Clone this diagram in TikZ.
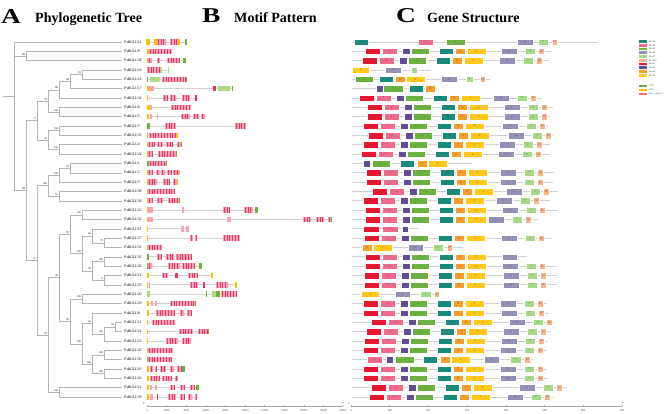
\documentclass[tikz,border=0pt]{standalone}
\usepackage{fontspec}
\setmainfont{Liberation Serif}
\usepackage{graphicx}
\usetikzlibrary{positioning}

\definecolor{treegray}{HTML}{B4B4B4}
\definecolor{linegray}{HTML}{D2D2D2}
\definecolor{exR}{HTML}{E8365E}
\definecolor{exP}{HTML}{F6A3B7}
\definecolor{exY}{HTML}{FFC000}
\definecolor{exG}{HTML}{6AB43E}
\definecolor{exL}{HTML}{AEDA88}
\definecolor{m1}{HTML}{6BB240}
\definecolor{m2}{HTML}{FFC81A}
\definecolor{m3}{HTML}{E8172F}
\definecolor{m4}{HTML}{1A8A7B}
\definecolor{m5}{HTML}{EE6B8C}
\definecolor{m6}{HTML}{9391B5}
\definecolor{m7}{HTML}{A5D887}
\definecolor{m8}{HTML}{634D97}
\definecolor{m9}{HTML}{F59E2A}
\definecolor{m10}{HTML}{F9B68C}

\begin{document}
\begin{tikzpicture}[
  x=0.03cm,y=-0.03cm,
  br/.style={draw=treegray, line width=0.45pt},
  gl/.style={draw=linegray, line width=0.6pt},
  ax/.style={draw=linegray!80!black, line width=0.4pt},
  big/.style={font=\fontsize{18}{20}\selectfont\bfseries, anchor=base west, inner sep=0pt},
  ttl/.style={font=\fontsize{12}{14}\selectfont\bfseries, anchor=base west, inner sep=0pt},
  gname/.style={font=\fontsize{3.2}{3.5}\selectfont\itshape, anchor=west, inner sep=0pt},
  sup/.style={font=\fontsize{2.3}{2.5}\selectfont, inner sep=0.2pt},
  mb/.style={inner sep=0pt, minimum height=6.4*0.03cm, draw=white, line width=0.15pt, font=\fontsize{2.4}{2.6}\selectfont, text=black!75},
  axl/.style={font=\fontsize{2.5}{2.8}\selectfont, inner sep=0pt, text=black!70},
  lgbox/.style={inner sep=0pt, minimum width=8*0.03cm, minimum height=2.8*0.03cm},
  lgtxt/.style={font=\fontsize{2}{2.2}\selectfont, inner sep=0pt, text=black!70},
  ey/.style={fill=exY},
  eg/.style={fill=exG},
  el/.style={fill=exL},
  ep/.style={fill=exP},
  er/.style={fill=exR},
  es/.style={fill=exP, path picture={\foreach \k in {0,...,14}{\fill[exR] ([xshift=\k*2.4pt+0.7pt]path picture bounding box.south west) rectangle ([xshift=\k*2.4pt+1.5pt]path picture bounding box.north west);}}}
]
\useasboundingbox (0,0) rectangle (669,413);

% titles
\node[big] (tA) at (1,23) {\scalebox{1.3}[1]{A}};
\node[ttl] (hA) at (35,22) {Phylogenetic Tree};
\node[big] (tB) at (202,22.5) {\scalebox{1.3}[1]{B}};
\node[ttl] (hB) at (234,22) {Motif Pattern};
\node[big] (tC) at (396,22) {\scalebox{1.3}[1]{C}};
\node[ttl] (hC) at (427,22.3) {Gene Structure};

% leaves
\foreach \r/\g in {1/13,2/9,3/28,4/19,5/18,6/17,7/34,8/6,9/5,10/7,11/33,12/4,13/24,14/1,15/2,16/3,17/38,18/36,19/22,20/32,21/15,22/27,23/31,24/35,25/26,26/14,27/37,28/20,29/29,30/8,31/11,32/21,33/23,34/25,35/30,36/10,37/16,38/12,39/39}{
  \pgfmathsetmacro\y{42+(\r-1)*9.34}
  \coordinate (e\r) at (122,\y);
  \node[gname] (t\r) at (124,\y) {PsBGLU\g};
}

% internal nodes of the tree
\coordinate (nRoot) at (14,96.15);
\coordinate (r0) at (3,96.15);
\coordinate (n88) at (26,56.01);
\coordinate (nA) at (82,74.69);
\coordinate (nB) at (70,81.70);
\coordinate (nC) at (59,89.87);
\coordinate (nD) at (59,112.05);
\coordinate (nE) at (48,100.96);
\coordinate (nG) at (59,130.73);
\coordinate (nH) at (59,149.41);
\coordinate (nI) at (48,140.07);
\coordinate (nF) at (37,120.52);
\coordinate (nN) at (70,168.09);
\coordinate (nO) at (59,175.10);
\coordinate (nP) at (59,196.11);
\coordinate (nQ) at (48,185.60);
\coordinate (nS) at (82,214.79);
\coordinate (nU) at (104,242.81);
\coordinate (nV) at (92,235.81);
\coordinate (nX) at (104,261.49);
\coordinate (nY) at (104,280.17);
\coordinate (nZ) at (92,270.83);
\coordinate (nW) at (82,253.32);
\coordinate (nT) at (70,234.05);
\coordinate (nAB) at (82,298.85);
\coordinate (nAE) at (115,326.87);
\coordinate (nAF) at (104,333.88);
\coordinate (nAD) at (92,323.37);
\coordinate (nAI) at (104,354.89);
\coordinate (nAJ) at (104,373.57);
\coordinate (nAG) at (92,364.23);
\coordinate (nAH) at (82,343.80);
\coordinate (nAC) at (70,321.33);
\coordinate (nAA) at (59,277.69);
\coordinate (nAK) at (59,392.25);
\coordinate (nR) at (48,334.97);
\coordinate (nL) at (37,260.29);
\coordinate (nJ) at (26,190.44);

\draw[br] (r0) -- (nRoot);
\foreach \p/\c in {nRoot/e1,nRoot/n88,nRoot/nJ,n88/e2,n88/e3,nA/e4,nA/e5,nB/nA,nB/e6,nC/nB,nC/e7,nD/e8,nD/e9,nE/nC,nE/nD,
  nG/e10,nG/e11,nH/e12,nH/e13,nI/nG,nI/nH,nF/nE,nF/nI,nN/e14,nN/e15,nO/nN,nO/e16,nP/e17,nP/e18,nQ/nO,nQ/nP,
  nS/e19,nS/e20,nU/e22,nU/e23,nV/e21,nV/nU,nX/e24,nX/e25,nY/e26,nY/e27,nZ/nX,nZ/nY,nW/nV,nW/nZ,nT/nS,nT/nW,
  nAB/e28,nAB/e29,nAE/e31,nAE/e32,nAF/nAE,nAF/e33,nAD/e30,nAD/nAF,nAI/e34,nAI/e35,nAJ/e36,nAJ/e37,nAG/nAI,nAG/nAJ,
  nAH/nAD,nAH/nAG,nAC/nAB,nAC/nAH,nAA/nT,nAA/nAC,nAK/e38,nAK/e39,nR/nAA,nR/nAK,nL/nQ,nL/nR,nJ/nF,nJ/nL}
  {\draw[br] (\p) |- (\c);}

\foreach \n/\v in {n88/88,nA/93,nB/98,nC/86,nD/100,nE/79,nF/77,nG/100,nH/100,nI/99,nJ/68,nN/99,nO/100,nP/91,nQ/100,
  nS/100,nU/79,nV/96,nW/100,nX/100,nY/71,nZ/99,nT/99,nAA/99,nAB/100,nAE/62,nAF/100,nAD/65,nAI/100,nAJ/100,nAG/100,
  nAH/100,nAC/99,nAK/100,nR/91,nL/57}
  {\node[sup, anchor=south east] (s\n) at ([xshift=-0.5pt,yshift=0.4pt]\n) {\v};}

% motif pattern
\foreach \r/\e/\segs in {
  1/187/{146/150/ey,154/157/ey,157/166/es,170/178/es,178/180/ey,185/187/eg},
  2/172/{147/149/ey,149/172/es},
  3/186/{147/148/ey,148/152/es,157/160/es,167/180/es,183/186/eg},
  4/169/{147/160/es,160/162/el,168/169/el},
  5/187/{147/148/eg,150/160/el,162/186/es,186/187/eg},
  6/233/{147/149/ey,149/154/ep,213/216/er,218/230/el,232/233/eg},
  7/197/{147/148/ey,163/168/es,170/176/es,182/190/es,195/197/er},
  8/191/{147/150/ey,150/152/ep,171/191/es},
  9/205/{147/149/ey,150/152/ep,157/158/ep,181/190/es,193/199/es,201/205/es},
  10/246/{147/150/eg,165/176/es,235/246/es},
  11/178/{147/148/ey,149/176/es,176/178/ey},
  12/182/{147/148/ey,148/155/es,157/163/es,166/173/es,177/181/es,181/182/eg},
  13/177/{147/148/ey,148/153/es,158/176/es,176/177/eg},
  14/167/{147/149/eg,149/166/es,166/167/eg},
  15/180/{147/148/ey,148/153/es,156/160/es,161/165/es,167/172/es,173/179/es,179/180/ey},
  16/178/{147/148/ey,148/157/es,163/170/es,173/177/es,177/178/ey},
  17/175/{147/148/ey,148/175/es},
  18/180/{147/148/ey,148/153/es,157/163/es,168/179/es,179/180/eg},
  19/258/{147/148/ey,148/153/ep,182/184/ep,223/230/es,244/253/es,255/258/eg},
  20/332/{147/148/ey,148/153/ep,227/231/ep,303/311/es,316/324/es,328/331/es,331/332/eg},
  21/189/{147/148/ey,181/184/ep,186/189/ep},
  22/240/{147/148/ey,190/193/es,195/197/es,223/240/es},
  23/162/{147/148/ey,148/162/es},
  24/192/{147/149/eg,157/162/es,166/174/es,176/192/es},
  25/202/{147/149/eg,148/152/es,168/180/es,182/195/es,199/202/eg},
  26/213/{147/149/ey,162/168/es,175/178/er,188/198/es,211/213/ey},
  27/237/{147/148/ey,149/150/ep,190/198/es,203/205/er,216/228/es,235/237/ey},
  28/237/{147/150/el,206/207/eg,212/216/el,216/220/eg,221/237/es},
  29/196/{147/149/ey,151/153/ep,155/157/ep,170/195/es,195/196/eg},
  30/192/{147/149/ey,156/175/es,180/184/es,187/192/es},
  31/175/{147/148/ey,152/175/es},
  32/209/{147/148/ey,179/193/es,198/208/es,208/209/eg},
  33/191/{147/148/ey,166/178/es,182/191/es},
  34/173/{147/148/ey,148/173/es},
  35/172/{147/148/eg,148/172/es},
  36/185/{147/149/ey,150/153/es,155/157/es,160/166/es,170/174/es,177/182/es,182/185/eg},
  37/178/{147/149/ey,150/160/es,162/172/es,175/178/es},
  38/199/{147/149/ey,150/152/ep,155/157/ep,170/175/es,180/185/es,190/195/es,196/199/eg},
  39/197/{147/149/ey,150/153/ep,157/158/er,168/176/es,180/185/es,188/192/es,195/197/es}}{
  \pgfmathsetmacro\y{42+(\r-1)*9.34}
  \draw[gl] (147,\y) -- (\e,\y);
  \foreach \a/\b/\c in \segs {\path[\c] (\a,\y-2.7) rectangle (\b,\y+2.7);}
}

\draw[ax] (147,406) -- (343,406);
\foreach \k/\lab in {0/0,1/2000,2/4000,3/6000,4/8000,5/10000,6/12000,7/14000,8/16000,9/18000,10/20000}{
  \draw[ax] (147+\k*19.6,406) -- (147+\k*19.6,404.6);
  \node[axl] (bx\k) at (147+\k*19.6,410.6) {\lab};
}
\node[axl] (b5) at (144,404) {5'};
\node[axl] (b3) at (343,403.5) {3'};

% gene structure
\foreach \r/\s/\t/\e in {2/365/0/552,3/362/1/549,7/359/-2/542,8/367/1/553,9/367/1/550,10/363/3/548,11/368/4/553,
  12/363/0/550,13/361/1/550,15/366/-2/554,16/366/-2/553,17/372/-2/558,18/363/-3/550,19/365/1/558,20/365/-13/538,
  22/364/1/551,25/365/1/557,
  26/364/3/557,27/364/3/557,29/363/1/547,30/363/2/549,31/371/2/554,32/366/1/551,33/364/1/548,34/363/1/547,
  36/363/1/547,37/363/1/548,38/371/12/567,39/369/2/553}{
  \pgfmathsetmacro\y{42+(\r-1)*9.34}
  \draw[gl] (352,\y) -- (\e,\y);
  \foreach \m/\o/\w in {3/0/15,5/17/15,8/37/8,1/46/18,4/74/14,9/90/10,2/102/19}
    {\node[mb, fill=m\m, minimum width={\w*0.03cm}] (c\r-\m) at ({\s+\o+\w/2},\y) {\m};}
  \foreach \m/\o/\w in {6/136/16,7/160/10,10/173/6}
    {\node[mb, fill=m\m, minimum width={\w*0.03cm}] (c\r-\m) at ({\s+\o+\t+\w/2},\y) {\m};}
}
\foreach \r/\e/\bx in {
  1/598/{354/368/4,418/433/5,446/465/1,517/533/6,538/548/7,552/557/10},
  4/431/{352/369/2,385/401/6,411/417/7},
  5/490/{355/373/1,379/393/4,395/405/9,406/425/2,441/457/6,466/473/7,480/485/10},
  6/437/{376/383/8,383/403/1,409/423/4,425/435/9},
  14/472/{363/370/8,372/390/1,400/414/4,417/427/9,428/447/2},
  21/418/{363/379/3,382/398/5,402/408/8},
  23/463/{362/372/9,373/392/2,408/423/6,433/443/7,447/452/10},
  24/527/{365/380/3,382/397/5,402/410/8,411/429/1,439/453/4,455/465/9,467/486/2,502/517/6},
  28/440/{361/379/2,395/410/6,420/431/7,434/439/10},
  35/533/{367/382/5,386/393/8,395/414/1,423/437/4,440/450/9,451/470/2,484/499/6,510/521/7,524/530/10}}{
  \pgfmathsetmacro\y{42+(\r-1)*9.34}
  \draw[gl] (352,\y) -- (\e,\y);
  \foreach \a/\b/\m in \bx
    {\node[mb, fill=m\m, minimum width={(\b-\a)*0.03cm}] (c\r-\m) at ({(\a+\b)/2},\y) {\m};}
}

\draw[ax] (351,406) -- (622,406);
\foreach \k in {0,...,7}{
  \pgfmathtruncatemacro\lab{\k*100}
  \draw[ax] (351+\k*38.7,406) -- (351+\k*38.7,404.6);
  \node[axl] (cx\k) at (351+\k*38.7,410.6) {\lab};
}
\node[axl] (c5) at (349,404) {5'};
\node[axl] (c3) at (623,403.5) {3'};

% legend
\foreach \m/\k in {4/0,5/1,1/2,6/3,7/4,10/5,3/6,8/7,9/8,2/9}{
  \node[lgbox, fill=m\m] (lg\m) at (643,41.5+\k*3.75) {};
  \node[lgtxt, right=1.2pt of lg\m] (lt\m) {Motif\m};
}
\node[lgbox, fill=exG] (lgU) at (643,86) {};
\node[lgtxt, right=1.2pt of lgU] (ltU) {UTR};
\node[lgbox, fill=exY] (lgC) at (643,90) {};
\node[lgtxt, right=1.2pt of lgC] (ltC) {CDS};
\node[lgbox, fill=m5] (lgG) at (643,94) {};
\node[lgtxt, right=1.2pt of lgG] (ltG) {Glyco\_hydro\_1};
\end{tikzpicture}
\end{document}
